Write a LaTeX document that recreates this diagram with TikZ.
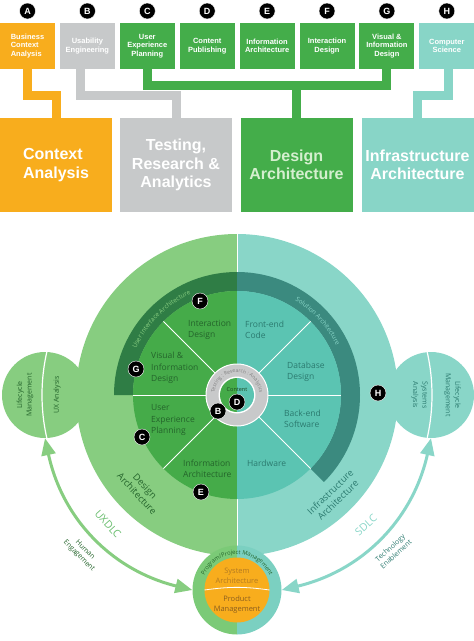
\documentclass[tikz,border=0pt]{standalone}
\usepackage{fontspec}
\setmainfont{Open Sans}
\newfontfamily\arialfont{Liberation Sans}
\usetikzlibrary{arrows.meta,decorations.text,positioning}

\definecolor{corange}{HTML}{F8AD1D}
\definecolor{cgray}{HTML}{C7C9CA}
\definecolor{cgreen}{HTML}{44AD4A}
\definecolor{cteal}{HTML}{88D5C7}
\definecolor{dapale}{HTML}{D5EFCF}
\definecolor{lgreen}{HTML}{87CD80}
\definecolor{lteal}{HTML}{89D6C8}
\definecolor{dgreen}{HTML}{2F7D45}
\definecolor{dteal}{HTML}{3B8A7F}
\definecolor{mgreen}{HTML}{45AB49}
\definecolor{mteal}{HTML}{5BC4B2}
\definecolor{rgray}{HTML}{C8C9CA}
\definecolor{pgreen}{HTML}{7BCA77}
\definecolor{pteal}{HTML}{7BD0C1}
\definecolor{wtgreen}{HTML}{24642B}
\definecolor{wtteal}{HTML}{2B7A6F}
\definecolor{sysarch}{HTML}{B37A22}
\definecolor{prodmg}{HTML}{8B5E1F}

\newcommand{\topboxfont}{\arialfont\bfseries\fontsize{7.5}{8.6}\selectfont}
\newcommand{\bigboxfont}{\arialfont\bfseries\fontsize{16}{18.2}\selectfont}
\newcommand{\badgefont}{\arialfont\bfseries\fontsize{9}{9}\selectfont}
\newcommand{\wedgefont}{\fontsize{8.5}{11.5}\selectfont}
\newcommand{\outerfont}{\fontsize{9.3}{11}\selectfont}
\newcommand{\sidefont}{\fontsize{7}{9.5}\selectfont}
\newcommand{\cyclefont}{\fontsize{10.5}{12}\selectfont}
\newcommand{\notefont}{\fontsize{7}{8.5}\selectfont}

\tikzset{
  topbox/.style={minimum width=55, minimum height=46, inner sep=0pt, text=white, font=\topboxfont},
  bigbox/.style={minimum width=112, minimum height=94, inner sep=0pt, text=white, align=center, font=\bigboxfont},
  badge/.style={circle, fill=black, draw=white, line width=0.4, text=white, inner sep=0pt, minimum size=16, font=\badgefont},
  link/.style={line width=9},
  sidecirc/.style={circle, inner sep=0pt, minimum size=86},
  wedge/.style={anchor=west, inner sep=0pt, align=left, font=\wedgefont},
  uxarrow/.style={draw=lgreen, line width=3, {Triangle[length=17pt,width=14pt]}-{Triangle[length=17pt,width=14pt]}},
  sdarrow/.style={draw=lteal, line width=3, {Triangle[length=17pt,width=14pt]}-{Triangle[length=17pt,width=14pt]}}
}

\begin{document}
\begin{tikzpicture}[x=1pt,y=1pt]
    \useasboundingbox (0,0) rectangle (474,-641);
    % Cajas superiores
    \foreach \i/\l/\c/\al/\t in {
        0/A/corange/left/{Business\\Context\\Analysis},
        1/B/cgray/center/{Usability\\Engineering},
        2/C/cgreen/center/{User\\Experience\\Planning},
        3/D/cgreen/center/{Content\\Publishing},
        4/E/cgreen/center/{Information\\Architecture},
        5/F/cgreen/center/{Interaction\\Design},
        6/G/cgreen/center/{Visual \&\\Information\\Design},
        7/H/cteal/center/{Computer\\Science}}{
        \node[topbox, fill=\c, align=\al] (top\l) at (27.5+59.9*\i,-46) {\t};
        \node[badge] (badge\l) at (27.5+59.9*\i,-11) {\l};
    }
    % Cajas grandes
    \node[bigbox, fill=corange, align=left] (bigA) at (56,-165) {Context\\Analysis};
    \node[bigbox, fill=cgray] (bigB) at (176,-165) {Testing,\\Research \&\\Analytics};
    \node[bigbox, fill=cgreen, text=dapale] (bigC) at (296.5,-165) {Design\\Architecture};
    \node[bigbox, fill=cteal] (bigD) at (417.5,-165) {Infrastructure\\Architecture};
    % Conectores
    \draw[link, corange] (topA.south) -- ++(0,-26.5) -| (bigA.north);
    \draw[link, cgray] ([xshift=-6.5]topB.south) -- ++(0,-26.5) -| (bigB.north);
    \draw[link, cgreen] (topC.south) -- ++(0,-16) -| (topG.south);
    \draw[link, cgreen] (bigC.north) -- ++(0,33);
    \draw[link, cteal] ([xshift=1.5]topH.south) -- ++(0,-26.5) -| (bigD.north);
    % Circulos laterales
    \node[sidecirc, fill=lgreen] (lcirc) at (45,-395) {};
    \node[sidecirc, fill=lteal] (rcirc) at (431,-395) {};
    % Rueda
    \begin{scope}[shift={(237,-395)}]
        \fill[lgreen] (90:161) arc[start angle=90, end angle=270, radius=161] -- cycle;
        \fill[lteal] (90:161) arc[start angle=90, end angle=-90, radius=161] -- cycle;
        \draw[white, line width=0.8] (90:161) -- (270:161);
        \fill[dgreen] (90:123) arc[start angle=90, end angle=180, radius=123] -- (180:104) arc[start angle=180, end angle=90, radius=104] -- cycle;
        \fill[dteal] (90:123) arc[start angle=90, end angle=-45, radius=123] -- (-45:104) arc[start angle=-45, end angle=90, radius=104] -- cycle;
        \fill[mgreen] (90:104) arc[start angle=90, end angle=270, radius=104] -- cycle;
        \fill[mteal] (90:104) arc[start angle=90, end angle=-90, radius=104] -- cycle;
        \foreach \a in {0,45,135,180,225,315}
            \draw[white, line width=0.8] (\a:31) -- (\a:104);
        \fill[rgray, draw=white, line width=1] (0,0) circle (31);
        \fill[white] (0,0) circle (18.5);
        \fill[mgreen] (90:17) arc[start angle=90, end angle=270, radius=17] -- cycle;
        \fill[mteal] (90:17) arc[start angle=90, end angle=-90, radius=17] -- cycle;
        % Textos curvos
        \path[decorate, decoration={text along path, text align=center,
            text={|\fontsize{6.3}{7}\selectfont\color{lgreen}|User Interface Architecture}}]
            (170:111) arc[start angle=170, end angle=100, radius=111];
        \path[decorate, decoration={text along path, text align=center,
            text={|\fontsize{6.3}{7}\selectfont\color{lteal}|Solution Architecture}}]
            (80:111) arc[start angle=80, end angle=5, radius=111];
        \path[decorate, decoration={text along path, text align=center,
            text={|\fontsize{5}{6}\selectfont\color{gray}|Testing : Research : Analytics}}]
            (215:22.5) arc[start angle=215, end angle=-35, radius=22.5];
    \end{scope}
    % Divisiones de los circulos laterales
    \begin{scope}
        \clip (lcirc.center) circle (43);
        \draw[white, line width=1.2] (237,-395) ++(165:195) arc[start angle=165, end angle=195, radius=195];
    \end{scope}
    \begin{scope}
        \clip (rcirc.center) circle (43);
        \draw[white, line width=1.2] (237,-395) ++(-15:195) arc[start angle=-15, end angle=15, radius=195];
    \end{scope}
    \node[rotate=90, align=center, font=\sidefont, text=wtgreen] (lifeL) at (25,-395) {Lifecycle\\Management};
    \node[rotate=90, font=\sidefont, text=wtgreen] (uxan) at (57,-395) {UX Analysis};
    \node[rotate=-90, align=center, font=\sidefont, text=wtteal] (sysan) at (419.5,-395) {Systems\\Analysis};
    \node[rotate=-90, align=center, font=\sidefont, text=wtteal] (lifeR) at (452.5,-395) {Lifecycle\\Management};
    % Textos de la rueda
    \node[wedge, text=wtgreen] (intd) at (188,-330) {Interaction\\Design};
    \node[wedge, text=wtgreen] (visd) at (151,-368) {Visual \&\\Information\\Design};
    \node[wedge, text=wtgreen] (uxp) at (151,-420) {User\\Experience\\Planning};
    \node[wedge, text=wtgreen] (infa) at (183,-469) {Information\\Architecture};
    \node[wedge, text=wtteal] (fec) at (245,-330) {Front-end\\Code};
    \node[wedge, text=wtteal] (dbd) at (287,-372) {Database\\Design};
    \node[wedge, text=wtteal] (bes) at (284,-419) {Back-end\\Software};
    \node[wedge, text=wtteal] (hw) at (247,-463) {Hardware};
    \node[font=\fontsize{5.5}{6}\selectfont, text=wtgreen!70!black, inner sep=0pt] (cont) at (237,-390) {Content};
    \node[rotate=-47, align=center, font=\outerfont, text=wtgreen] (desa) at (141,-490) {Design\\Architecture};
    \node[rotate=44, align=center, font=\outerfont, text=wtteal] (infra) at (334,-496) {Infrastructure\\Architecture};
    % Insignias
    \node[badge] (wF) at (200,-301) {F};
    \node[badge] (wG) at (136,-369) {G};
    \node[badge] (wC) at (142,-437) {C};
    \node[badge] (wE) at (201,-492) {E};
    \node[badge] (wB) at (218,-411) {B};
    \node[badge] (wD) at (237,-402) {D};
    \node[badge] (wH) at (378,-393) {H};
    % Circulo inferior
    \begin{scope}[shift={(237,-590)}]
        \fill[pgreen] (90:44.5) arc[start angle=90, end angle=270, radius=44.5] -- cycle;
        \fill[pteal] (90:44.5) arc[start angle=90, end angle=-90, radius=44.5] -- cycle;
        \fill[corange] (0,0) circle (32.5);
        \draw[white, line width=0.8] (180:32.5) to[bend left=8] (0:32.5);
        \path[decorate, decoration={text along path, text align=center,
            text={|\fontsize{5.8}{6.5}\selectfont\color{wtgreen}|Program/Project Management}}]
            (170:35.5) arc[start angle=170, end angle=10, radius=35.5];
    \end{scope}
    \node[circle, inner sep=0pt, minimum size=89] (pmcirc) at (237,-590) {};
    \node[align=center, font=\fontsize{7.5}{10}\selectfont, text=sysarch] (sysa) at (237,-576) {System\\Architecture};
    \node[align=center, font=\fontsize{7.5}{10}\selectfont, text=prodmg] (prodm) at (237,-605) {Product\\Management};
    % Ciclos
    \draw[uxarrow] (lcirc.south) to[bend right=32] (pmcirc.west);
    \draw[sdarrow] (rcirc.south) to[bend left=32] (pmcirc.east);
    \node[rotate=-48, font=\cyclefont, text=cgreen!80!white] (uxdlc) at (108,-524) {UXDLC};
    \node[rotate=42, font=\cyclefont, text=lteal] (sdlc) at (366,-525) {SDLC};
    \node[rotate=-45, align=center, font=\notefont, text=wtgreen] (human) at (82,-553) {Human\\Engagement};
    \node[rotate=42, align=center, font=\notefont, text=wtteal] (tech) at (393,-551) {Technology\\Enablement};
\end{tikzpicture}
\end{document}
